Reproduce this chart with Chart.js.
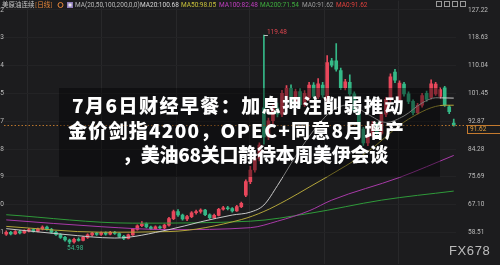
<!DOCTYPE html>
<html><head><meta charset="utf-8">
<script src="https://cdn.jsdelivr.net/npm/chart.js@4.4.1/dist/chart.umd.min.js"></script>
<style>html,body{margin:0;padding:0;background:#1c1c1e;overflow:hidden}#wrap{width:500px;height:265px;position:relative}</style>
</head><body><div id="wrap"><canvas id="c"></canvas></div>
<script>
// ---- data ----
const days = Array.from({length: 100}, (_, i) => 'd' + (i + 1));
const open = [58.0,58.6,58.1,58.8,58.4,59.0,59.4,58.9,59.6,60.2, 59.5,58.6,57.9,57.0,56.2,55.6,56.4,56.1,57.0,57.8, 58.3,57.9,58.4,58.0,58.6,58.2,57.3,56.7,57.8,59.5, 60.6,61.2,60.2,59.7,60.3,59.9,60.8,62.8,65.0,63.9, 62.7,63.4,64.6,65.0,65.4,64.0,63.1,63.8,65.7,66.1, 65.9,65.2,66.5,70.0,74.2,77.8,81.3,97.0,88.0,93.0, 97.0,95.0,99.0,103.0,99.0,102.0,98.0,100.0,104.0,100.4, 104.0,100.0,111.5,111.5,108.5,103.2,104.9,101.3,96.2,90.4, 86.2,88.6,91.9,89.1,95.0,99.6,108.0,99.5,104.3,101.3, 99.0,95.5,97.8,101.5,100.2,101.3,100.5,103.2,97.3,92.3];
const close = [58.6,58.1,58.8,58.4,59.0,59.4,58.9,59.6,60.2,59.5, 58.6,57.9,57.0,56.2,55.6,56.4,56.1,57.0,57.8,58.3, 57.9,58.4,58.0,58.6,58.2,57.3,56.7,57.8,59.5,60.6, 61.2,60.2,59.7,60.3,59.9,60.8,62.8,65.0,63.9,62.7, 63.4,64.6,65.0,65.4,64.0,63.1,63.8,65.7,66.1,65.9, 65.2,66.5,67.5,74.2,77.8,81.3,85.5,88.0,93.0,97.0, 95.0,101.5,103.0,99.0,102.0,98.0,101.5,104.0,100.5,104.4, 101.0,111.0,110.2,108.9,103.2,105.0,101.3,96.2,90.4,86.2, 88.6,91.9,89.1,95.0,99.6,106.6,105.5,104.6,101.3,99.0, 95.5,97.8,100.8,99.6,104.4,104.3,102.6,97.9,95.8,91.62];
const high = [59.0,58.9,59.1,59.2,59.3,59.8,59.7,59.9,60.6,60.5, 59.8,58.9,58.2,57.3,56.5,56.8,56.9,57.3,58.1,58.6, 58.6,58.7,58.7,58.9,58.9,58.4,57.6,58.0,59.8,60.9, 61.9,61.5,60.5,60.6,60.6,61.1,63.2,65.4,65.6,64.2, 63.8,65.0,65.4,65.8,65.7,64.3,64.2,66.0,66.6,66.6, 66.2,66.9,67.9,74.8,78.9,81.9,86.2,119.48,93.8,97.8, 98.5,102.4,103.9,104.1,102.8,102.9,102.3,104.9,104.8,106.0, 104.9,113.1,112.3,116.8,109.3,105.8,107.2,101.9,96.8,91.0, 89.3,92.8,92.4,95.7,100.2,107.5,108.9,105.3,104.9,101.9, 99.5,98.4,101.5,102.2,105.6,104.9,103.2,103.6,97.8,93.5];
const low = [57.6,57.8,57.9,58.1,58.2,58.7,58.6,58.7,59.3,59.2, 58.3,57.6,56.7,55.8,54.98,55.2,55.8,55.9,56.7,57.4, 57.6,57.6,57.7,57.8,57.9,57.0,56.3,56.5,57.6,59.2, 60.3,59.9,59.4,59.5,59.6,59.7,60.5,62.5,63.5,62.3, 62.2,63.1,64.2,64.5,63.7,62.7,62.9,63.6,65.4,65.5, 64.8,65.0,66.2,69.6,73.6,77.1,80.6,85.8,87.2,92.1, 94.2,94.3,98.2,98.2,98.3,97.2,97.4,99.3,99.8,99.8, 100.2,99.0,109.6,108.3,102.6,102.5,100.8,95.6,89.6,85.4, 85.3,87.9,88.4,88.6,94.3,99.0,104.8,98.8,100.6,98.3, 94.8,95.0,97.2,99.0,99.7,100.8,100.0,97.4,95.2,91.3];
// moving-average lines: [candle index, value] read at points along each curve
const ma20Pts  = [[0,59.7],[13,57.9],[24,56.8],[36,59.4],[43,61.8],[50,63.9],[54,64.8],[57,67],[60,73],[64,82],[68,90],[72,96],[76,98],[80,95],[84,92.5],[88,94.5],[92,98.5],[95,100.1],[99,100.0]];
const ma50Pts  = [[0,60.4],[21,58.6],[36,58.8],[52,62.5],[57,65],[62,68.5],[67,72.5],[75,79],[80,83.5],[89,93.5],[97,97.8],[99,97.8]];
const ma100Pts = [[0,62.4],[21,60.3],[36,59.4],[54,60.0],[60,62],[67,65.2],[72,68.5],[87,75.5],[99,82.3]];
const ma200Pts = [[0,64.0],[28,61.4],[54,62.0],[67,64.4],[83,68.5],[99,71.3]];
const tickVals = [58.51, 67.10, 75.69, 84.28, 92.87, 101.45, 110.04, 118.63, 127.22];
const lastPrice = 91.62;
const titleLines = ['7月6日财经早餐：加息押注削弱推动', '金价剑指4200，OPEC+同意8月增产', '，美油68关口静待本周美伊会谈'];
const legendItems = [
  ['美原油连续', '#c8c8c8'], ['[日线]', '#e8873a'], ['MA(20,50,100,200,0,0)', '#b8b8b8'],
  ['MA20:100.68', '#d8d8d8'], ['MA50:98.05', '#c9c23a'], ['MA100:82.48', '#c23fc2'],
  ['MA200:71.54', '#3fae3f'], ['MA0:91.62', '#9a9a9a'], ['MA0:91.62', '#e0403c']
];
const watermark = 'FX678';

// ---- styling ----
const UP = '#e8475b', DOWN = '#35b887';
const colors = close.map((c, i) => c >= open[i] ? UP : DOWN);
const toPts = a => a.map(([i, v]) => ({x: days[i], y: v}));
const maLine = (pts, color) => ({type: 'line', data: toPts(pts), borderColor: color, borderWidth: 1,
  pointRadius: 0, cubicInterpolationMode: 'monotone', order: 0, yAxisID: 'y'});

const Y_MIN = 48.68, Y_MAX = 130.08;
const legendX = [2, 35, 75, 140, 181, 219, 260, 302, 336];
const titleFit = [[72, 405, 105.5], [68, 405, 130.5], [122, 388, 155]];
const gridX = [27, 101.5, 176, 250, 324, 398];
const tickFont = {size: 6.5, family: 'Roboto', lineHeight: 0.2};

const deco = {
  id: 'deco',
  afterDatasetsDraw(chart) {
    const {ctx, chartArea: a, scales: {y}} = chart;
    ctx.save();
    const ly = y.getPixelForValue(lastPrice);
    ctx.strokeStyle = '#b8742c'; ctx.lineWidth = 1; ctx.setLineDash([1.5, 2]);
    ctx.beginPath(); ctx.moveTo(a.left, Math.round(ly) + 0.5); ctx.lineTo(467, Math.round(ly) + 0.5); ctx.stroke();
    ctx.setLineDash([]);
    ctx.fillStyle = 'rgba(0,0,0,0.40)';
    ctx.fillRect(59, 88, 381, 89);
    ctx.restore();
  },
  afterDraw(chart) {
    const {ctx, scales: {x, y}} = chart;
    ctx.save();
    // title
    ctx.fillStyle = '#ffffff';
    ctx.textBaseline = 'middle'; ctx.textAlign = 'left';
    ctx.font = '900 19px "Noto Sans CJK SC"';
    titleLines.forEach((t, k) => {
      const [l, r, cy] = titleFit[k];
      ctx.letterSpacing = '0px';
      const w = ctx.measureText(t).width;
      const n = [...t].length;
      const ls = (r - l - w) / n;
      ctx.letterSpacing = ls.toFixed(2) + 'px';
      ctx.fillText(t, l, cy);
    });
    ctx.letterSpacing = '0px';
    // top legend
    legendItems.forEach(([t, c], k) => {
      ctx.font = k < 2 ? '6.5px "Noto Sans CJK SC"' : '6.5px Roboto';
      ctx.fillStyle = c;
      ctx.fillText(t, legendX[k], 5);
    });
    ctx.strokeStyle = '#e8873a'; ctx.lineWidth = 1;
    ctx.beginPath(); ctx.arc(60.5, 5, 2.5, 0, Math.PI * 2); ctx.stroke();
    ctx.fillStyle = '#8d7bb8'; ctx.fillRect(67, 2, 6, 6);
    ctx.fillStyle = '#e8e8e8'; ctx.fillRect(68.5, 3.5, 3, 3);
    ctx.strokeStyle = '#9a9a9a';
    [436, 444, 452, 460].forEach(px => ctx.strokeRect(px + 0.5, 1.5, 5, 5));
    // max / min annotations
    const iMax = high.indexOf(Math.max(...high));
    const iMin = low.indexOf(Math.min(...low));
    const hx = x.getPixelForValue(iMax), hy = y.getPixelForValue(high[iMax]);
    ctx.strokeStyle = '#bbbbbb';
    ctx.beginPath(); ctx.moveTo(hx, Math.round(hy) + 0.5); ctx.lineTo(hx + 4, Math.round(hy) + 0.5); ctx.stroke();
    ctx.font = '6.5px Roboto'; ctx.fillStyle = '#e0454f';
    ctx.fillText(high[iMax].toFixed(2), hx + 3, hy - 3);
    const mx = x.getPixelForValue(iMin), my = y.getPixelForValue(low[iMin]);
    ctx.fillStyle = '#3cb88a';
    ctx.fillText(low[iMin].toFixed(2), mx - 2.5, my + 4.5);
    // last price box
    const ly = Math.round(y.getPixelForValue(lastPrice));
    ctx.fillStyle = '#1c1c1e'; ctx.fillRect(467, ly, 36, 9);
    ctx.strokeStyle = '#c47a2e'; ctx.strokeRect(467.5, ly + 0.5, 36, 8);
    ctx.fillStyle = '#e0a040'; ctx.font = '6.5px Roboto';
    ctx.fillText(lastPrice.toFixed(2), 470, ly + 4.8);
    // watermark
    ctx.font = '13px "Liberation Sans"'; ctx.fillStyle = 'rgba(215,215,215,0.85)';
    ctx.letterSpacing = '0.6px';
    ctx.fillText(watermark, 449, 251.5);
    ctx.restore();
  }
};

new Chart(document.getElementById('c'), {
  data: {
    labels: days,
    datasets: [
      maLine(ma20Pts, '#c9c9c9'),
      maLine(ma50Pts, '#b3a53a'),
      maLine(ma100Pts, '#a83aa8'),
      maLine(ma200Pts, '#2f9a3a'),
      {type: 'bar', data: open.map((o, i) => [Math.min(o, close[i]), Math.max(o, close[i])]),
       backgroundColor: colors, barThickness: 3, grouped: false, order: 1, yAxisID: 'y'},
      {type: 'bar', data: low.map((l, i) => [l, high[i]]),
       backgroundColor: colors, barThickness: 1, grouped: false, order: 2, yAxisID: 'y'}
    ]
  },
  options: {
    responsive: true, maintainAspectRatio: false, animation: false, devicePixelRatio: 1,
    layout: {padding: 0, autoPadding: false},
    plugins: {legend: {display: false}, tooltip: {enabled: false}},
    scales: {
      x: {display: false, offset: true},
      xg: {type: 'linear', position: 'bottom', min: 4, max: 456,
        afterBuildTicks: s => { s.ticks = gridX.map(v => ({value: v})); },
        afterFit: s => { s.height = 0; },
        ticks: {display: false}, grid: {color: '#28282a', drawTicks: false}, border: {display: false}},
      y: {position: 'right', min: Y_MIN, max: Y_MAX,
        afterBuildTicks: s => { s.ticks = tickVals.map(v => ({value: v})); },
        afterFit: s => { s.width = 44; },
        grid: {color: '#232325', drawTicks: true, tickLength: 12, tickColor: 'rgba(0,0,0,0)'},
        border: {display: false},
        ticks: {color: '#bdbdbd', font: tickFont, padding: 0, crossAlign: 'near',
          callback: v => v.toFixed(2)}},
      yl: {position: 'left', min: Y_MIN, max: Y_MAX,
        afterBuildTicks: s => { s.ticks = tickVals.map(v => ({value: v})); },
        afterFit: s => { s.width = 4; },
        grid: {display: false, drawTicks: false}, border: {display: false},
        ticks: {color: '#bdbdbd', font: tickFont, padding: 0, crossAlign: 'near',
          callback: v => v.toFixed(2)}}
    }
  },
  plugins: [deco]
});
</script></body></html>
